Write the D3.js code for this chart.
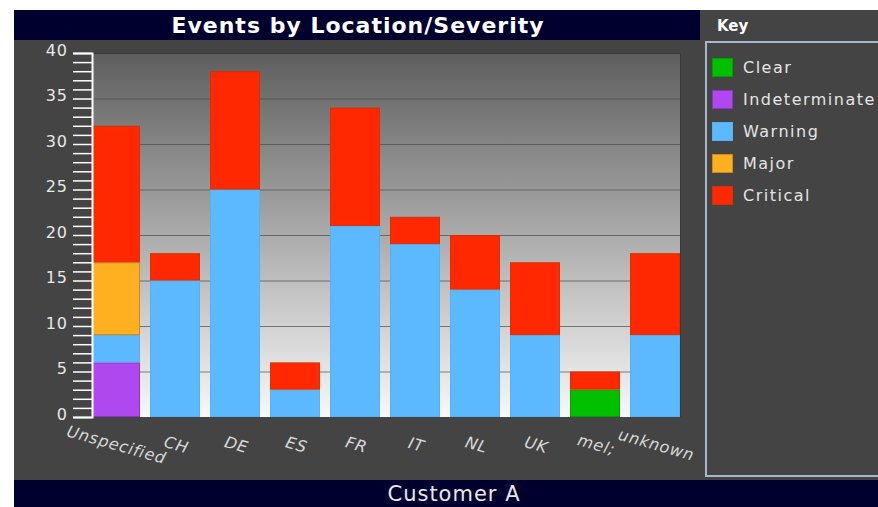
<!DOCTYPE html>
<html>
<head>
<meta charset="utf-8">
<script src="https://cdn.jsdelivr.net/npm/d3@7"></script>
<style>
  body { margin: 0; background: #fff; }
  svg { display: block; }
</style>
</head>
<body>
<script>
// chart data
var locations = ["Unspecified", "CH", "DE", "ES", "FR", "IT", "NL", "UK", "mel;", "unknown"];
var severities = ["Clear", "Indeterminate", "Warning", "Major", "Critical"];
var clearCounts         = [0, 0, 0, 0, 0, 0, 0, 0, 3, 0];
var indeterminateCounts = [6, 0, 0, 0, 0, 0, 0, 0, 0, 0];
var warningCounts       = [3, 15, 25, 3, 21, 19, 14, 9, 0, 9];
var majorCounts         = [8, 0, 0, 0, 0, 0, 0, 0, 0, 0];
var criticalCounts      = [15, 3, 13, 3, 13, 3, 6, 8, 2, 9];
var yTicks = d3.range(0, 41);

var fills   = ["#00c000", "#b048f0", "#5cb8ff", "#ffb020", "#ff2800"];
var strokes = ["#00a000", "#8a34c0", "#58b0f4", "#d08818", "#d83000"];

var width = 878, height = 507;
var svg = d3.select("body").append("svg")
    .attr("width", width)
    .attr("height", height)
    .style("font-family", "'DejaVu Sans', sans-serif");

// panels
svg.append("rect").attr("x", 14).attr("y", 10).attr("width", width - 14).attr("height", 470).attr("fill", "#444444");
svg.append("rect").attr("x", 14).attr("y", 10).attr("width", 686).attr("height", 30).attr("fill", "#00002e");
svg.append("rect").attr("x", 14).attr("y", 480).attr("width", width - 14).attr("height", 27).attr("fill", "#00002e");

svg.append("text")
    .attr("x", 358).attr("y", 33)
    .attr("text-anchor", "middle")
    .attr("fill", "#ffffff")
    .style("font-size", "22px")
    .style("font-weight", "bold")
    .style("letter-spacing", "1px")
    .text("Events by Location/Severity");

svg.append("text")
    .attr("x", 454).attr("y", 501)
    .attr("text-anchor", "middle")
    .attr("fill", "#e8e8e8")
    .style("font-size", "21px")
    .style("letter-spacing", "1px")
    .text("Customer A");

// plot area
var plotLeft = 92, plotRight = 680, plotTop = 53, plotBottom = 417;

var defs = svg.append("defs");
var grad = defs.append("linearGradient")
    .attr("id", "bg").attr("x1", 0).attr("y1", 0).attr("x2", 0).attr("y2", 1);
grad.append("stop").attr("offset", "0%").attr("stop-color", "#5e5e5e");
grad.append("stop").attr("offset", "100%").attr("stop-color", "#f8f8f8");

defs.append("clipPath").attr("id", "plotclip")
  .append("rect")
    .attr("x", plotLeft + 1).attr("y", plotTop)
    .attr("width", plotRight - plotLeft - 1).attr("height", plotBottom - plotTop);

svg.append("rect")
    .attr("x", plotLeft).attr("y", plotTop)
    .attr("width", plotRight - plotLeft).attr("height", plotBottom - plotTop)
    .attr("fill", "url(#bg)");

var x = d3.scaleBand()
    .domain(locations)
    .range([85, 685])
    .paddingInner(1 / 6)
    .paddingOuter(1 / 12);

var y = d3.scaleLinear()
    .domain([0, 40])
    .range([plotBottom, plotTop]);

// gridlines
svg.append("g")
    .selectAll("line")
    .data(d3.range(5, 41, 5))
    .enter().append("line")
    .attr("x1", plotLeft).attr("x2", plotRight)
    .attr("y1", function (d) { return y(d) + 0.5; })
    .attr("y2", function (d) { return y(d) + 0.5; })
    .attr("stroke", "#4a4a4a")
    .attr("stroke-opacity", 0.7);

// top / right frame of plot
svg.append("path")
    .attr("d", "M" + plotLeft + "," + (plotTop + 0.5) + "H" + (plotRight + 0.5) + "V" + plotBottom)
    .attr("fill", "none")
    .attr("stroke", "#383838");

// stacked bars
var table = locations.map(function (loc, i) {
    return {
        loc: loc,
        Clear: clearCounts[i],
        Indeterminate: indeterminateCounts[i],
        Warning: warningCounts[i],
        Major: majorCounts[i],
        Critical: criticalCounts[i]
    };
});
var series = d3.stack().keys(severities)(table);

var barG = svg.append("g").attr("clip-path", "url(#plotclip)");
barG.selectAll("g.series")
    .data(series)
    .enter().append("g")
    .attr("class", "series")
    .attr("fill", function (d, i) { return fills[i]; })
    .attr("stroke", function (d, i) { return strokes[i]; })
  .selectAll("rect")
    .data(function (d) { return d.filter(function (p) { return p[1] > p[0]; }); })
    .enter().append("rect")
    .attr("x", function (d) { return x(d.data.loc) + 0.5; })
    .attr("y", function (d) { return y(d[1]) + 0.5; })
    .attr("width", x.bandwidth() - 1)
    .attr("height", function (d) { return y(d[0]) - y(d[1]) - 1; })
    .attr("stroke-width", 1);

// y axis
var yAxis = d3.axisLeft(y)
    .tickValues(yTicks)
    .tickSize(19)
    .tickPadding(5)
    .tickFormat(function (d) { return d % 5 === 0 ? d : ""; });

var yG = svg.append("g")
    .attr("transform", "translate(" + plotLeft + ",0)")
    .call(yAxis);
yG.select(".domain").attr("stroke", "#ffffff").attr("stroke-width", 2);
yG.selectAll(".tick line").attr("stroke", "#ffffff").attr("stroke-width", 1.5);
yG.selectAll(".tick text")
    .attr("fill", "#e8e8e8")
    .attr("dy", "0.15em")
    .style("font-size", "16px")
    .style("letter-spacing", "1px")
    .style("font-family", "'DejaVu Sans', sans-serif");

// x labels
svg.append("g")
    .selectAll("text")
    .data(locations)
    .enter().append("text")
    .attr("transform", function (d) {
        return "translate(" + (x(d) + x.bandwidth() / 2) + ",450) rotate(16)";
    })
    .attr("text-anchor", "middle")
    .attr("fill", "#d8d8d8")
    .style("font-size", "16px")
    .style("font-style", "italic")
    .style("letter-spacing", "0.8px")
    .text(function (d) { return d; });

// key
svg.append("text")
    .attr("x", 717).attr("y", 31)
    .attr("fill", "#ffffff")
    .style("font-size", "15px")
    .style("font-weight", "bold")
    .text("Key");

svg.append("rect")
    .attr("x", 706).attr("y", 42)
    .attr("width", 180).attr("height", 434)
    .attr("fill", "none")
    .attr("stroke", "#a8b8cc")
    .attr("stroke-width", 2);

var legend = svg.append("g").selectAll("g")
    .data(severities)
    .enter().append("g")
    .attr("transform", function (d, i) { return "translate(712," + (58 + i * 32) + ")"; });

legend.append("rect")
    .attr("x", 0.5).attr("y", 0.5)
    .attr("width", 20).attr("height", 18)
    .attr("fill", function (d, i) { return fills[i]; })
    .attr("stroke", function (d, i) { return strokes[i]; });

legend.append("text")
    .attr("x", 31).attr("y", 15)
    .attr("fill", "#e4e4e4")
    .style("font-size", "16px")
    .style("letter-spacing", "1.5px")
    .text(function (d) { return d; });
</script>
</body>
</html>
